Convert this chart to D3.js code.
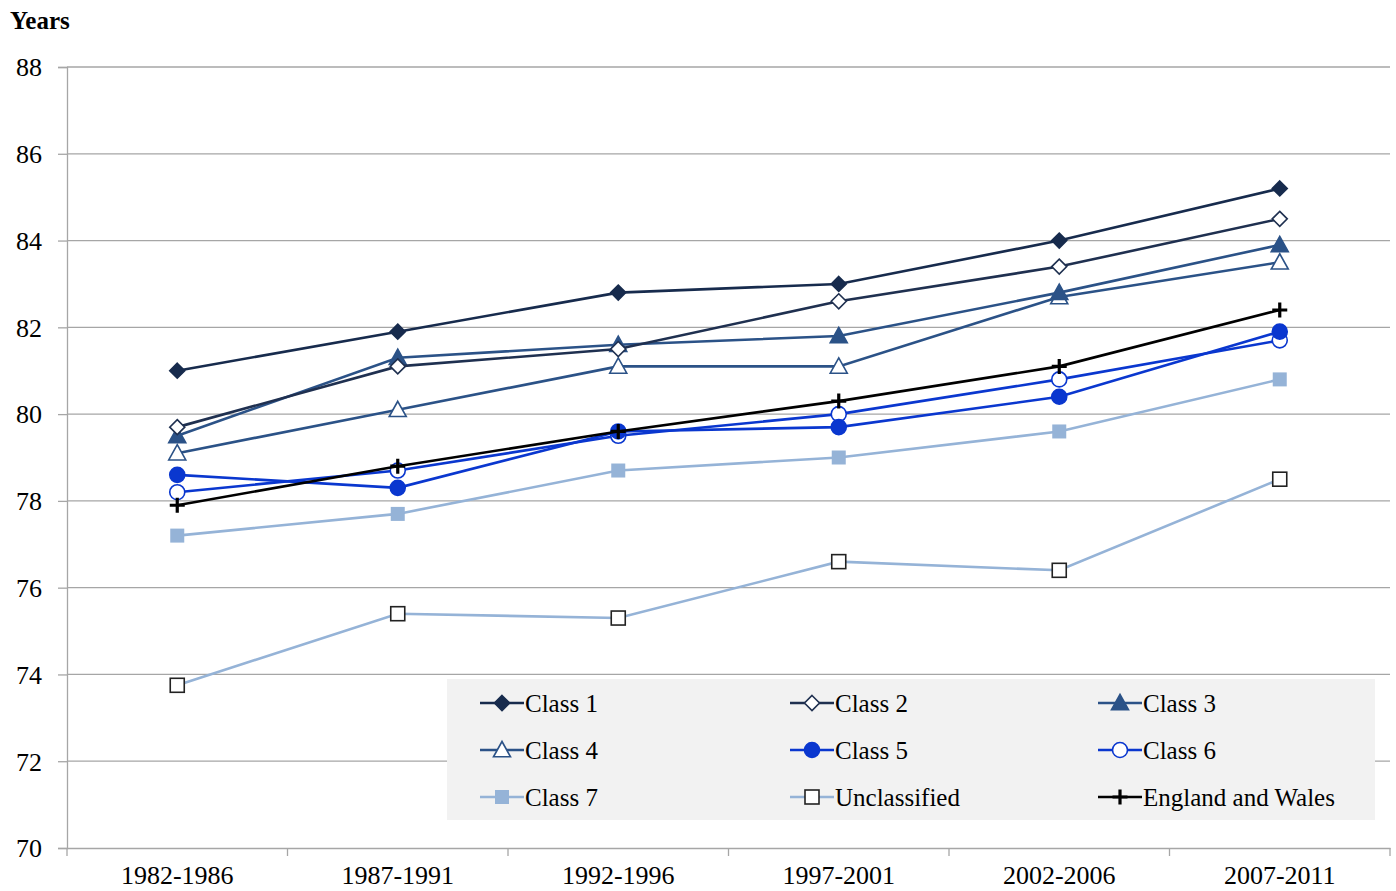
<!DOCTYPE html>
<html><head><meta charset="utf-8">
<script src="https://cdn.jsdelivr.net/npm/d3@7"></script>
<style>body{margin:0;background:#fff;} text{font-family:"Liberation Serif","Times New Roman",serif;}</style>
</head><body><svg id="chart" width="1396" height="891"></svg>
<script>
const categories = ["1982-1986","1987-1991","1992-1996","1997-2001","2002-2006","2007-2011"];
const yTicks = [70,72,74,76,78,80,82,84,86,88];
const seriesNames = ["Class 1","Class 2","Class 3","Class 4","Class 5","Class 6","Class 7","Unclassified","England and Wales"];
const class1 = [81.0, 81.9, 82.8, 83.0, 84.0, 85.2];
const class2 = [79.7, 81.1, 81.5, 82.6, 83.4, 84.5];
const class3 = [79.5, 81.3, 81.6, 81.8, 82.8, 83.9];
const class4 = [79.1, 80.1, 81.1, 81.1, 82.7, 83.5];
const class5 = [78.6, 78.3, 79.6, 79.7, 80.4, 81.9];
const class6 = [78.2, 78.7, 79.5, 80.0, 80.8, 81.7];
const class7 = [77.2, 77.7, 78.7, 79.0, 79.6, 80.8];
const unclassified = [73.75, 75.4, 75.3, 76.6, 76.4, 78.5];
const englandWales = [77.9, 78.8, 79.6, 80.3, 81.1, 82.4];

const seriesValues = [class1,class2,class3,class4,class5,class6,class7,unclassified,englandWales];
const styles = [
  {color:"#172B4D", marker:"diamond", fill:"#172B4D"},
  {color:"#1F3050", marker:"diamond", fill:"#fff"},
  {color:"#2B5287", marker:"triangle", fill:"#2B5287"},
  {color:"#2B5287", marker:"triangle", fill:"#fff"},
  {color:"#0A37CF", marker:"circle", fill:"#0A37CF"},
  {color:"#0A37CF", marker:"circle", fill:"#fff"},
  {color:"#95B3D7", marker:"square", fill:"#95B3D7"},
  {color:"#95B3D7", marker:"square", fill:"#fff", mstroke:"#222"},
  {color:"#000", marker:"cross", fill:"#000"}
];

const FONT = '"Liberation Serif","Times New Roman",serif';
const svg = d3.select("#chart");
const L = 67, R = 1390, T = 67, B = 848;
const x = d3.scaleBand().domain(categories).range([L, R]);
const y = d3.scaleLinear().domain([70, 88]).range([B, T]);

// gridlines
svg.append("g").selectAll("line").data(yTicks.filter(d=>d>70)).join("line")
  .attr("x1", L).attr("x2", R).attr("y1", d=>y(d)).attr("y2", d=>y(d))
  .attr("stroke", "#a6a6a6").attr("stroke-width", 1.3);

// y axis
const yAxis = svg.append("g").attr("transform", `translate(${L},0)`)
  .call(d3.axisLeft(y).tickValues(yTicks).tickSize(9).tickPadding(16).tickFormat(d3.format("d")))
  .attr("font-family", FONT);
yAxis.select(".domain").attr("stroke", "#a6a6a6").attr("stroke-width", 1.3);
yAxis.selectAll(".tick line").attr("stroke", "#a6a6a6").attr("stroke-width", 1.3);
yAxis.selectAll(".tick text").attr("font-size", 26).attr("fill", "#000").attr("dy", "0.34em")
  .style("font-family", FONT);

// x axis
const xAxis = svg.append("g").attr("transform", `translate(0,${B})`)
  .call(d3.axisBottom(x).tickSize(0).tickPadding(18))
  .attr("font-family", FONT);
xAxis.select(".domain").attr("stroke", "#a6a6a6").attr("stroke-width", 1.3);
xAxis.selectAll(".tick text").attr("font-size", 26).attr("fill", "#000")
  .style("font-family", FONT);
const bounds = categories.map(c => x(c)).concat([R]);
svg.append("g").selectAll("line").data(bounds).join("line")
  .attr("x1", d=>d).attr("x2", d=>d).attr("y1", B).attr("y2", B+8)
  .attr("stroke", "#a6a6a6").attr("stroke-width", 1.3);

svg.append("text").attr("x", 10).attr("y", 29).text("Years")
  .attr("font-size", 25).attr("font-weight", "bold").style("font-family", FONT);

function drawMarker(g, st, cx, cy) {
  const sw = 1.6;
  const stroke = st.mstroke || st.color;
  if (st.marker === "diamond") {
    const s = 7.5;
    g.append("path").attr("d", `M${cx},${cy-s}L${cx+s},${cy}L${cx},${cy+s}L${cx-s},${cy}Z`)
      .attr("fill", st.fill).attr("stroke", stroke).attr("stroke-width", sw);
  } else if (st.marker === "triangle") {
    const s = 8.5;
    g.append("path").attr("d", `M${cx},${cy-s}L${cx+s},${cy+s*0.8}L${cx-s},${cy+s*0.8}Z`)
      .attr("fill", st.fill).attr("stroke", stroke).attr("stroke-width", sw);
  } else if (st.marker === "circle") {
    g.append("circle").attr("cx", cx).attr("cy", cy).attr("r", 7.5)
      .attr("fill", st.fill).attr("stroke", stroke).attr("stroke-width", sw);
  } else if (st.marker === "square") {
    const s = 7;
    g.append("rect").attr("x", cx-s).attr("y", cy-s).attr("width", 2*s).attr("height", 2*s)
      .attr("fill", st.fill).attr("stroke", st.mstroke ? stroke : "none").attr("stroke-width", sw);
  } else if (st.marker === "cross") {
    const s = 7.5;
    g.append("path").attr("d", `M${cx-s},${cy}H${cx+s}M${cx},${cy-s}V${cy+s}`)
      .attr("stroke", stroke).attr("stroke-width", 3.2);
  }
}

const line = d3.line().x((d,i)=>x(categories[i]) + x.bandwidth()/2).y(d=>y(d));
const order = [7,6,3,2,1,0,5,4,8];
order.forEach(si => {
  const st = styles[si];
  const g = svg.append("g");
  g.append("path").datum(seriesValues[si]).attr("d", line)
    .attr("fill", "none").attr("stroke", st.color).attr("stroke-width", 2.6);
  seriesValues[si].forEach((v,i) => drawMarker(g, st, x(categories[i]) + x.bandwidth()/2, y(v)));
});

// legend
const lg = svg.append("g");
lg.append("rect").attr("x", 447).attr("y", 679).attr("width", 928).attr("height", 141).attr("fill", "#f2f2f2");
const colX = [480, 790, 1098], rowY = [703, 750, 797];
seriesNames.forEach((name, i) => {
  const cx = colX[i % 3], cy = rowY[Math.floor(i / 3)];
  const st = styles[i];
  lg.append("line").attr("x1", cx).attr("x2", cx+44).attr("y1", cy).attr("y2", cy)
    .attr("stroke", st.color).attr("stroke-width", 2.6);
  drawMarker(lg, st, cx+22, cy);
  lg.append("text").attr("x", cx+45).attr("y", cy+9).text(name).attr("font-size", 25)
    .attr("fill", "#000").style("font-family", FONT);
});
</script></body></html>
